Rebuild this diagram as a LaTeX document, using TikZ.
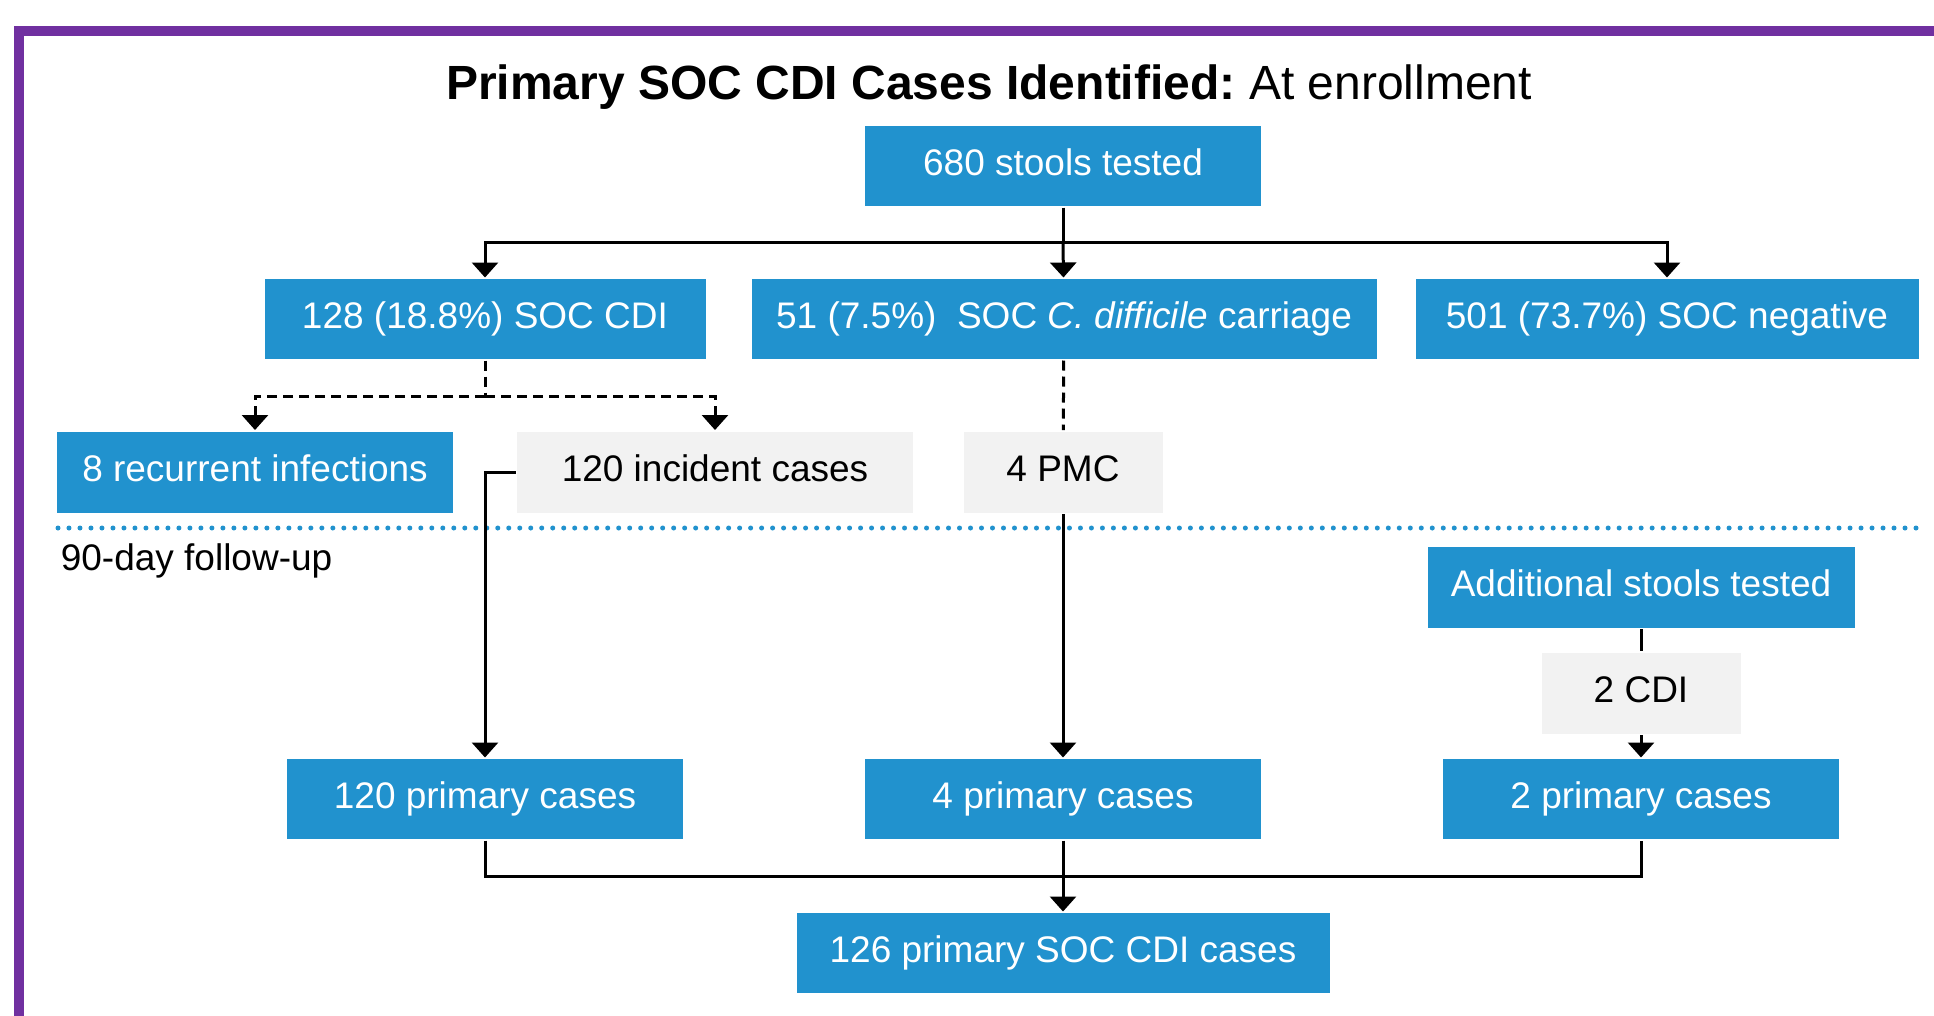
\documentclass[tikz,border=0pt]{standalone}
\usepackage{fontspec}
\setmainfont{Liberation Sans}
\usetikzlibrary{arrows.meta}
\definecolor{boxblue}{RGB}{33,146,206}
\definecolor{boxgrey}{RGB}{242,242,242}
\definecolor{framepurple}{RGB}{112,48,160}
\tikzset{
  bluebox/.style={fill=boxblue,text=white,inner sep=0pt,minimum height=80pt,text height=26.5pt,text depth=8pt,font=\fontsize{37}{44}\selectfont},
  greybox/.style={fill=boxgrey,text=black,inner sep=0pt,minimum height=81pt,text height=26.5pt,text depth=8pt,font=\fontsize{37}{44}\selectfont},
  arr/.style={-{Triangle[width=26pt,length=15pt]}},
  dashline/.style={dash pattern=on 10pt off 6pt},
  dotline/.style={boxblue,line width=5pt,line cap=round,dash pattern=on 0pt off 10.994pt}
}
\frenchspacing
\begin{document}
\begin{tikzpicture}[x=1pt,y=-1pt,line width=3pt]
\clip (0,0) rectangle (1934,1015);
\fill[white] (0,0) rectangle (1934,1015);
\draw[framepurple,line width=10pt] (19,1040) -- (19,31) -- (1950,31);

\node[font=\fontsize{48}{58}\selectfont] (title) at (989,87) {\textbf{Primary SOC CDI Cases Identified:} At enrollment};

\node[bluebox,minimum width=396pt] (n1) at (1063,166) {680 stools tested};
\node[bluebox,minimum width=441pt] (n2) at (485,319) {128 (18.8\%) SOC CDI};
\node[bluebox,minimum width=625pt] (n3) at (1064,319) {51 (7.5\%)\ \ SOC \textit{C. difficile} carriage};
\node[bluebox,minimum width=503pt] (n4) at (1667,319) {501 (73.7\%) SOC negative};
\node[bluebox,minimum width=396pt,minimum height=81pt] (n5) at (255,472) {8 recurrent infections};
\node[greybox,minimum width=396pt] (n6) at (715,472) {120 incident cases};
\node[greybox,minimum width=199pt] (n7) at (1063,472) {4 PMC};

\draw[dotline] (58,528) -- (1916,528);
\node[anchor=west,font=\fontsize{37}{44}\selectfont] (fu) at (56,561) {90-day follow-up};

\node[bluebox,minimum width=427pt,minimum height=81pt] (n11) at (1641,587) {Additional stools tested};
\node[greybox,minimum width=199pt] (n12) at (1641,693) {2 CDI};
\node[bluebox,minimum width=396pt] (n8) at (485,799) {120 primary cases};
\node[bluebox,minimum width=396pt] (n9) at (1063,799) {4 primary cases};
\node[bluebox,minimum width=396pt] (n10) at (1641,799) {2 primary cases};
\node[bluebox,minimum width=533pt] (n13) at (1063,953) {126 primary SOC CDI cases};

\coordinate (j1) at (1063,242);
\coordinate (j2) at (485,396);
\coordinate (j3) at (1063,876);

\draw (n1) -- (j1);
\draw[arr] (j1) -| (n2);
\draw[arr] (j1) -- (n3);
\draw[arr] (j1) -| (n4);

\draw[dashline] (n2) -- (j2);
\draw[arr,dashline] (j2) -| (n5);
\draw[arr,dashline] (j2) -| (n6);
\draw[dashline] (n3) -- (n7);

\draw[arr] (n6.west) -| (n8);
\draw[arr] (n7) -- (n9);
\draw (n11) -- (n12);
\draw[arr] (n12) -- (n10);

\draw (n8.south) |- (j3) -| (n10.south);
\draw[arr] (n9) -- (n13);
\end{tikzpicture}
\end{document}
